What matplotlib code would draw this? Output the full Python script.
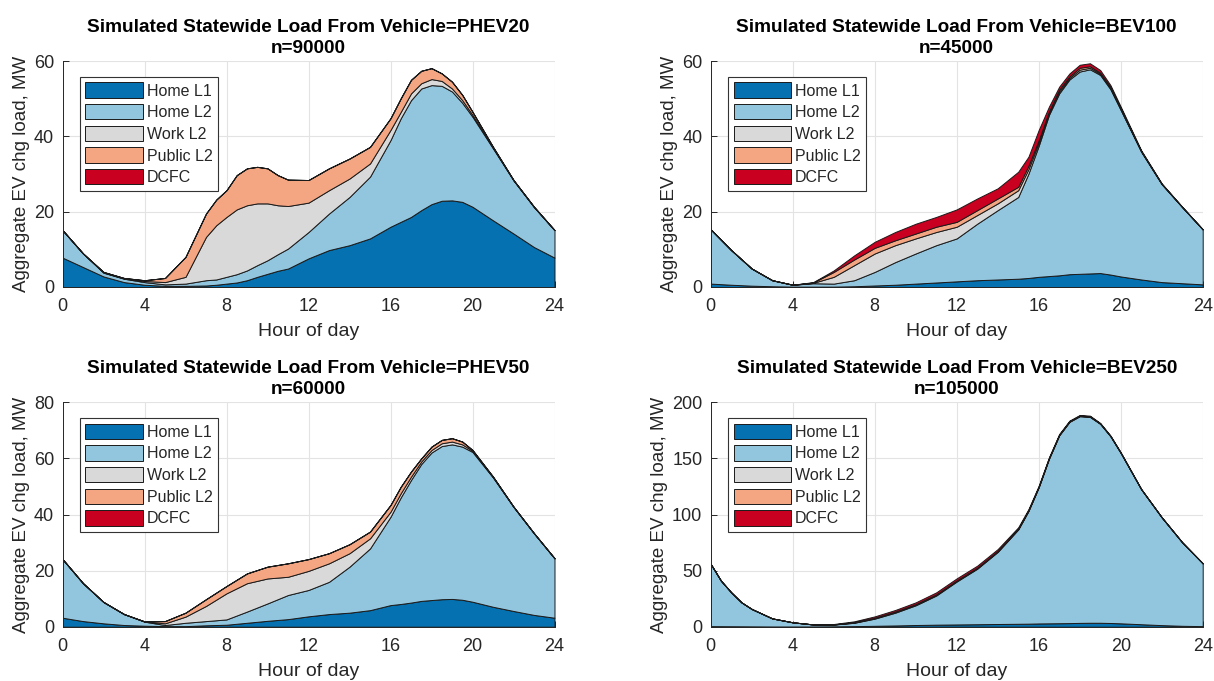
import numpy as np
import matplotlib
matplotlib.use("Agg")
import matplotlib.pyplot as plt

plt.rcParams['font.family'] = ['Liberation Sans', 'DejaVu Sans']

categories = ["Home L1", "Home L2", "Work L2", "Public L2", "DCFC"]
colors = ["#0571b0", "#92c5de", "#d9d9d9", "#f4a582", "#ca0020"]

# ---- PHEV20, n=90000 ----
phev20_hours = [0, 1, 2, 3, 4, 5, 6, 7, 7.5, 8, 8.5, 9, 9.5, 10, 10.5, 11, 12, 13, 14, 15, 16,
                16.5, 17, 17.5, 18, 18.5, 19, 19.5, 20, 21, 22, 23, 24]
phev20_home_l1 = [7.8, 5.3, 2.8, 1.3, 0.6, 0.3, 0.3, 0.4, 0.6, 0.9, 1.2, 1.8, 2.7, 3.5, 4.3, 4.9, 7.6, 9.8, 11.1, 12.9, 16.0,
                  17.3, 18.6, 20.4, 22.0, 22.9, 23.0, 22.6, 21.3, 17.7, 14.2, 10.6, 7.8]
phev20_home_l2 = [7.3, 3.6, 1.0, 0.9, 0.7, 0.4, 0.6, 1.4, 1.4, 1.8, 2.2, 2.6, 3.1, 3.6, 4.4, 5.3, 7.0, 9.7, 12.8, 16.4, 23.0,
                  27.5, 31.0, 32.3, 31.6, 30.5, 28.9, 26.3, 23.9, 19.1, 14.1, 10.6, 7.3]
phev20_work_l2 = [0, 0, 0.1, 0.1, 0.3, 0.6, 1.8, 11.5, 14.4, 15.9, 17.2, 17.3, 16.4, 15.1, 13.0, 11.3, 7.8, 6.2, 4.9, 3.5, 2.7,
                  1.7, 1.8, 1.4, 1.6, 1.3, 0.8, 0.7, 0.5, 0.2, 0.05, 0.05, 0]
phev20_public_l2 = [0, 0, 0.1, 0.1, 0.2, 1.1, 5.3, 6.2, 6.8, 7.1, 9.1, 9.8, 9.7, 9.3, 8.0, 7.0, 6.0, 5.8, 5.3, 4.4, 3.1,
                    3.6, 3.6, 3.3, 2.9, 2.0, 1.8, 1.4, 0.8, 0.2, 0.05, 0.05, 0]
phev20_dcfc = [0] * len(phev20_hours)

# ---- BEV100, n=45000 ----
bev100_hours = [0, 1, 2, 3, 4, 5, 6, 7, 8, 9, 10, 11, 12, 13, 14, 15,
                15.5, 16, 16.5, 17, 17.5, 18, 18.5, 19, 19.5, 20, 21, 22, 23, 24]
bev100_home_l1 = [0.9, 0.6, 0.35, 0.2, 0.1, 0.1, 0.1, 0.2, 0.4, 0.6, 0.9, 1.2, 1.5, 1.8, 2.0, 2.2,
                  2.4, 2.7, 2.9, 3.1, 3.4, 3.5, 3.6, 3.7, 3.3, 2.8, 2.0, 1.3, 1.0, 0.7]
bev100_home_l2 = [14.4, 9.2, 4.55, 1.6, 0.5, 0.9, 0.8, 1.6, 3.6, 6.0, 8.0, 9.9, 11.4, 15.0, 18.4, 21.7,
                  27.7, 34.8, 42.8, 48.3, 51.7, 53.7, 54.2, 52.6, 49.2, 44.2, 33.9, 26.0, 20.2, 14.6]
bev100_work_l2 = [0, 0, 0, 0, 0, 0.1, 1.8, 4.0, 4.9, 4.5, 4.0, 3.5, 3.1, 2.3, 1.8, 1.8,
                  1.2, 0.8, 0.5, 0.5, 0.4, 0.5, 0.4, 0.3, 0.3, 0.2, 0.1, 0.05, 0.02, 0]
bev100_public_l2 = [0, 0, 0, 0, 0, 0.1, 1.3, 1.5, 1.5, 1.3, 1.3, 1.4, 1.3, 1.3, 1.3, 0.9,
                    0.9, 0.7, 0.4, 0.5, 0.4, 0.5, 0.4, 0.3, 0.3, 0.3, 0.1, 0.05, 0.03, 0]
bev100_dcfc = [0, 0, 0, 0, 0, 0.1, 0.4, 1.1, 1.6, 2.2, 2.6, 2.6, 3.3, 3.1, 2.7, 4.0,
               2.4, 2.7, 1.3, 0.8, 0.8, 0.8, 0.8, 0.7, 0.5, 0.4, 0.2, 0.1, 0.05, 0]

# ---- PHEV50, n=60000 ----
phev50_hours = [0, 1, 2, 3, 4, 5, 6, 7, 8, 9, 10, 11, 12, 13, 14, 15, 16,
                16.5, 17, 17.5, 18, 18.5, 19, 19.5, 20, 21, 22, 23, 24]
phev50_home_l1 = [3.2, 2.0, 1.2, 0.6, 0.35, 0.2, 0.2, 0.5, 0.7, 1.4, 2.1, 2.7, 3.7, 4.5, 5.0, 5.9, 7.7,
                  8.1, 8.6, 9.2, 9.5, 9.8, 9.9, 9.6, 8.9, 7.1, 5.6, 4.2, 3.2]
phev50_home_l2 = [20.9, 13.5, 7.6, 3.9, 1.45, 0.4, 1.2, 1.5, 1.9, 4.0, 6.2, 8.6, 9.4, 11.5, 16.4, 22.0, 31.5,
                  38.0, 43.7, 48.8, 52.6, 54.6, 55.1, 54.6, 53.4, 46.1, 37.1, 29.1, 21.2]
phev50_work_l2 = [0, 0, 0, 0, 0.05, 0.6, 2.2, 5.4, 9.3, 10.1, 8.9, 6.5, 6.8, 6.6, 4.8, 3.6, 1.8,
                  1.5, 1.2, 0.9, 0.9, 1.0, 1.0, 0.8, 0.4, 0.15, 0.05, 0, 0]
phev50_public_l2 = [0, 0, 0, 0, 0.05, 0.8, 1.4, 2.4, 2.6, 3.5, 4.2, 4.8, 4.2, 3.6, 3.2, 2.4, 2.4,
                    2.3, 1.8, 1.1, 1.2, 1.2, 1.2, 1.0, 0.3, 0.15, 0.05, 0, 0]
phev50_dcfc = [0] * len(phev50_hours)

# ---- BEV250, n=105000 ----
bev250_hours = [0, 0.5, 1, 1.5, 2, 3, 4, 5, 6, 7, 8, 9, 10, 11, 12, 13, 14, 15,
                15.5, 16, 16.5, 17, 17.5, 18, 18.5, 19, 19.5, 20, 21, 22, 23, 24]
bev250_home_l1 = [0.5, 0.45, 0.4, 0.35, 0.3, 0.2, 0.2, 0.2, 0.3, 0.5, 0.8, 1.1, 1.5, 1.8, 2.0, 2.2, 2.4, 2.6,
                  2.7, 2.9, 3.0, 3.1, 3.2, 3.4, 3.5, 3.5, 3.3, 3.0, 2.2, 1.4, 0.8, 0.5]
bev250_home_l2 = [55.4, 40.55, 30.2, 21.35, 15.5, 7.2, 3.7, 1.8, 1.6, 3.0, 6.4, 11.4, 17.6, 26.0, 38.3, 49.5, 64.3, 84.1,
                  100.5, 121.4, 146.7, 167.5, 179.4, 184.2, 183.5, 177.3, 166.4, 151.9, 120.3, 96.1, 74.4, 56.0]
bev250_work_l2 = [0, 0, 0, 0, 0, 0, 0, 0, 0.1, 0.3, 0.5, 0.6, 0.6, 0.6, 0.6, 0.5, 0.5, 0.4,
                  0.35, 0.3, 0.3, 0.3, 0.3, 0.3, 0.3, 0.2, 0.15, 0.1, 0.05, 0, 0, 0]
bev250_public_l2 = [0, 0, 0, 0, 0, 0, 0, 0, 0.1, 0.2, 0.3, 0.4, 0.4, 0.4, 0.4, 0.4, 0.4, 0.3,
                    0.3, 0.3, 0.3, 0.3, 0.3, 0.3, 0.3, 0.2, 0.15, 0.1, 0.05, 0, 0, 0]
bev250_dcfc = [0, 0, 0, 0, 0, 0, 0, 0.1, 0.3, 0.8, 1.2, 1.4, 1.6, 1.8, 1.8, 1.8, 1.6, 1.2,
               1.0, 0.8, 0.7, 0.6, 0.5, 0.5, 0.5, 0.4, 0.35, 0.3, 0.1, 0, 0, 0]

vehicles = ["PHEV20", "BEV100", "PHEV50", "BEV250"]
counts = [90000, 45000, 60000, 105000]
ylims = [60, 60, 80, 200]
ysteps = [20, 20, 20, 50]
xs = [phev20_hours, bev100_hours, phev50_hours, bev250_hours]
series = [
    [phev20_home_l1, phev20_home_l2, phev20_work_l2, phev20_public_l2, phev20_dcfc],
    [bev100_home_l1, bev100_home_l2, bev100_work_l2, bev100_public_l2, bev100_dcfc],
    [phev50_home_l1, phev50_home_l2, phev50_work_l2, phev50_public_l2, phev50_dcfc],
    [bev250_home_l1, bev250_home_l2, bev250_work_l2, bev250_public_l2, bev250_dcfc],
]

fig = plt.figure(figsize=(12.14, 6.81), dpi=100)
W, H = 1214, 681
positions = [
    (62.5, 61, 554.5, 287),
    (710.7, 61, 1202.7, 287),
    (62.5, 402.3, 554.5, 626.7),
    (710.7, 402.3, 1202.7, 626.7),
]
txt = "#262626"
for i in range(4):
    x0, y0, x1, y1 = positions[i]
    ax = fig.add_axes([x0 / W, 1 - y1 / H, (x1 - x0) / W, (y1 - y0) / H])
    ax.set_axisbelow(True)
    ax.stackplot(xs[i], *series[i], labels=categories, colors=colors,
                 edgecolor="#1a1a1a", linewidth=0.7)
    ax.set_xlim(0, 24)
    ax.set_ylim(0, ylims[i])
    ax.set_xticks(range(0, 25, 4))
    ax.set_yticks(np.arange(0, ylims[i] + 1, ysteps[i]))
    ax.grid(True, color="#e3e3e3", linewidth=0.8)
    for s in ["top", "right"]:
        ax.spines[s].set_visible(False)
    for s in ["left", "bottom"]:
        ax.spines[s].set_color(txt)
        ax.spines[s].set_linewidth(0.7)
    ax.tick_params(direction="in", length=4, width=0.7, colors=txt,
                   labelsize=13, pad=8)
    ax.tick_params(axis="y", pad=6)
    ax.set_xlabel("Hour of day", fontsize=14, color=txt, labelpad=6)
    ax.set_ylabel("Aggregate EV chg load, MW", fontsize=13.5, color=txt, labelpad=3)
    ax.set_title(f"Simulated Statewide Load From Vehicle={vehicles[i]}\nn={counts[i]}",
                 fontsize=13.7, fontweight="bold", color="black", pad=6,
                 linespacing=1.3)
    leg = ax.legend(loc="upper left", bbox_to_anchor=(0.035, 0.93),
                    borderaxespad=0, fontsize=11.5, handlelength=3.6,
                    handleheight=1.1, handletextpad=0.25, labelspacing=0.35,
                    borderpad=0.35, fancybox=False, framealpha=1,
                    edgecolor="#333333")
    leg.get_frame().set_linewidth(0.8)
    for t in leg.get_texts():
        t.set_color(txt)

fig.savefig("out.png", dpi=100)
